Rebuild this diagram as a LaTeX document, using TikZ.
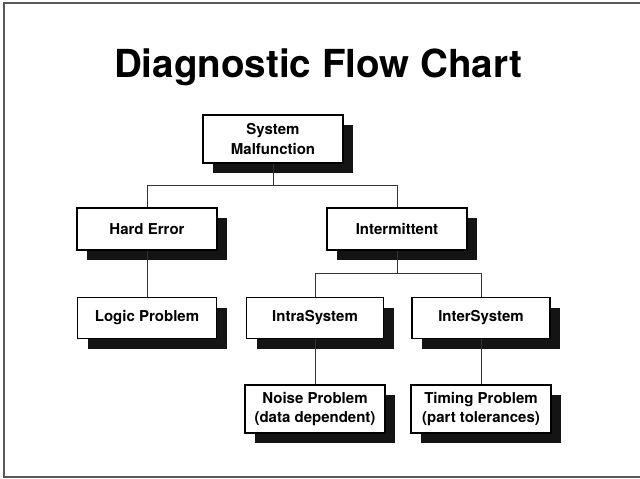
\documentclass[tikz,border=0pt]{standalone}
\usepackage{fontspec}
\setmainfont{TeX Gyre Heros}
\usetikzlibrary{shadows}

\begin{document}
\begin{tikzpicture}[x=1pt,y=-1pt,
  box/.style={draw=black, fill=white, line width=1.1pt, align=center,
    inner sep=0pt, minimum width=140pt, minimum height=42pt,
    font=\fontsize{15}{19.5}\selectfont\bfseries,
    drop shadow={shadow xshift=10pt, shadow yshift=-10pt, fill=black!92, opacity=1}},
  tall/.style={minimum height=48pt},
  link/.style={draw=black!80, line width=1pt}]
\useasboundingbox (0,0) rectangle (640,479);
\draw[black!65, line width=1.6pt] (640,3) -- (4,3) -- (4,477) -- (640,477);

\node[anchor=base, font=\fontsize{38.6}{46}\selectfont\bfseries] (title) at (318,77) {Diagnostic Flow Chart};

\node[box, tall] (sys) at (273,139) {System\\Malfunction};
\node[box] (hard) at (147,229) {Hard Error};
\node[box] (intermit) at (397,229) {Intermittent};
\node[box, minimum width=139pt, minimum height=41pt] (logic) at (147,318) {Logic Problem};
\node[box, minimum width=137pt, minimum height=41pt] (intra) at (315,318) {IntraSystem};
\node[box, minimum width=138pt, minimum height=41pt] (intersys) at (481,318) {InterSystem};
\node[box, tall] (noise) at (315,409) {Noise Problem\\(data dependent)};
\node[box, tall] (timing) at (481,409) {Timing Problem\\(part tolerances)};

\draw[link] (sys.south) -- ++(0,22) -| (hard.north);
\draw[link] (sys.south) -- ++(0,22) -| (intermit.north);
\draw[link] (hard.south) -- (logic.north);
\draw[link] (intermit.south) -- ++(0,23) -| (intra.north);
\draw[link] (intermit.south) -- ++(0,23) -| (intersys.north);
\draw[link] (intra.south) -- (noise.north);
\draw[link] (intersys.south) -- (timing.north);

\end{tikzpicture}
\end{document}
